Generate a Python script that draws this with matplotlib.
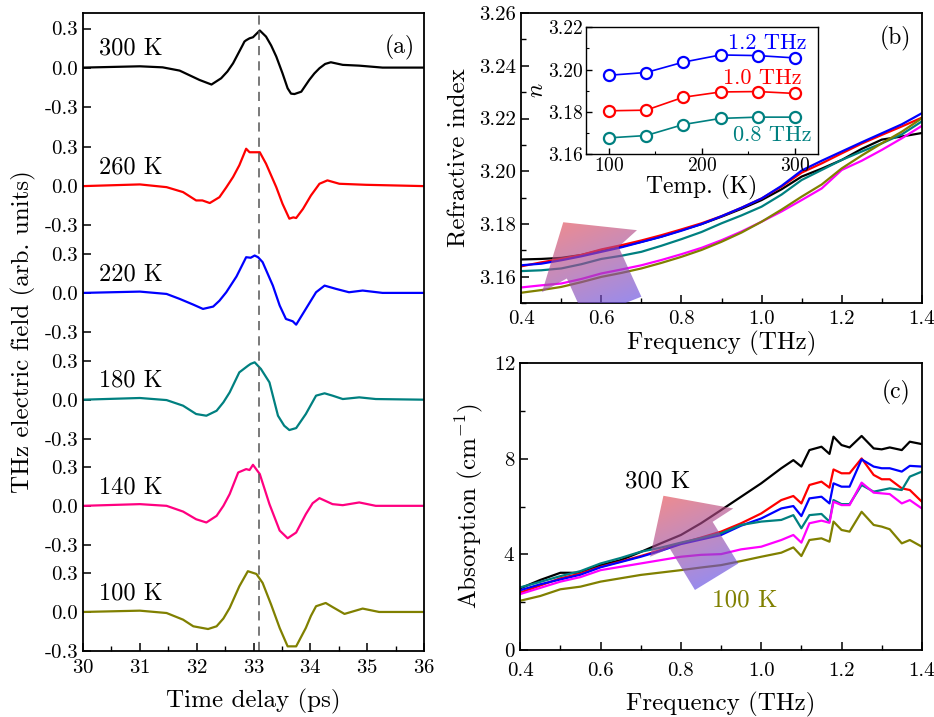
import numpy as np
import matplotlib
matplotlib.use("Agg")
import matplotlib.pyplot as plt
from matplotlib.patches import Polygon
from matplotlib.ticker import MultipleLocator, FormatStrFormatter

plt.rcParams['font.family'] = 'cmr10'
plt.rcParams['mathtext.fontset'] = 'cm'
plt.rcParams['axes.formatter.use_mathtext'] = True
plt.rcParams['axes.unicode_minus'] = False
plt.rcParams['xtick.direction'] = 'in'
plt.rcParams['ytick.direction'] = 'in'
plt.rcParams['axes.linewidth'] = 1.3

# ---------------- data ----------------
temps = ['300 K', '260 K', '220 K', '180 K', '140 K', '100 K']
colors_a = ['black', '#ff0000', '#0000ff', '#008080', '#ff0080', '#808000']
colors_bc = ['black', '#ff0000', '#0000ff', '#008080', '#ff00ff', '#808000']

# (a) time-domain THz waveforms
t300 = [30.0, 31.0, 31.4, 31.7, 32.05, 32.26, 32.43, 32.54, 32.64, 32.81, 32.84, 32.87, 32.93, 32.99, 33.11, 33.22, 33.31, 33.40, 33.51, 33.60, 33.66, 33.72, 33.84, 33.98, 34.07, 34.16, 34.26, 34.36, 34.57, 34.86, 35.27, 36.0]
e300 = [0.0, 0.01, 0.002, -0.023, -0.095, -0.13, -0.082, -0.03, 0.033, 0.174, 0.20, 0.21, 0.225, 0.233, 0.285, 0.238, 0.17, 0.085, -0.044, -0.159, -0.20, -0.203, -0.185, -0.095, -0.045, -0.005, 0.028, 0.041, 0.021, 0.015, 0.0, 0.0]
t260 = [30.0, 31.0, 31.47, 31.76, 31.99, 32.1, 32.23, 32.40, 32.52, 32.64, 32.75, 32.87, 32.93, 33.11, 33.22, 33.40, 33.51, 33.63, 33.70, 33.75, 33.87, 34.01, 34.16, 34.30, 34.51, 34.98, 36.0]
e260 = [0.0, 0.013, -0.008, -0.046, -0.11, -0.11, -0.13, -0.085, -0.01, 0.07, 0.16, 0.287, 0.26, 0.26, 0.172, -0.008, -0.136, -0.25, -0.24, -0.245, -0.175, -0.072, 0.018, 0.044, 0.018, 0.01, 0.0]
t220 = [30.0, 31.0, 31.47, 31.70, 31.94, 32.11, 32.29, 32.40, 32.52, 32.70, 32.87, 32.95, 33.02, 33.08, 33.16, 33.34, 33.46, 33.57, 33.69, 33.75, 33.92, 34.10, 34.25, 34.45, 34.68, 34.92, 35.27, 36.0]
e220 = [0.0, 0.01, -0.008, -0.046, -0.09, -0.123, -0.105, -0.06, 0.005, 0.126, 0.274, 0.27, 0.287, 0.274, 0.236, 0.056, -0.097, -0.2, -0.218, -0.244, -0.123, 0.005, 0.056, 0.031, 0.005, 0.018, 0.0, 0.0]
t180 = [30.0, 31.0, 31.47, 31.76, 31.99, 32.17, 32.35, 32.47, 32.58, 32.75, 32.90, 32.95, 33.02, 33.13, 33.28, 33.43, 33.54, 33.63, 33.75, 33.92, 34.10, 34.25, 34.39, 34.57, 34.86, 35.15, 36.0]
e180 = [0.0, 0.013, -0.003, -0.046, -0.11, -0.123, -0.085, -0.02, 0.056, 0.21, 0.26, 0.275, 0.287, 0.236, 0.133, -0.123, -0.2, -0.233, -0.218, -0.11, 0.031, 0.049, 0.031, 0.005, 0.018, 0.005, 0.0]
t140 = [30.0, 31.0, 31.47, 31.76, 31.99, 32.17, 32.35, 32.47, 32.58, 32.73, 32.87, 32.93, 32.99, 33.11, 33.28, 33.46, 33.60, 33.75, 33.92, 34.04, 34.16, 34.39, 34.57, 34.86, 35.15, 36.0]
e140 = [0.0, 0.013, 0.0, -0.044, -0.103, -0.128, -0.077, 0.0, 0.09, 0.256, 0.282, 0.275, 0.315, 0.244, 0.013, -0.19, -0.249, -0.205, -0.064, 0.02, 0.059, 0.013, 0.005, 0.026, 0.0, 0.0]
t100 = [30.0, 31.0, 31.47, 31.76, 31.94, 32.20, 32.35, 32.47, 32.58, 32.75, 32.90, 33.05, 33.16, 33.31, 33.46, 33.60, 33.75, 33.92, 34.01, 34.10, 34.27, 34.39, 34.60, 34.92, 35.21, 36.0]
e100 = [0.0, 0.01, -0.008, -0.059, -0.11, -0.131, -0.11, -0.05, 0.031, 0.197, 0.313, 0.292, 0.223, 0.056, -0.123, -0.264, -0.264, -0.123, -0.03, 0.044, 0.069, 0.038, -0.015, 0.026, 0.0, 0.0]
time_traces = [(t300, e300), (t260, e260), (t220, e220), (t180, e180), (t140, e140), (t100, e100)]
offsets = [4.18, 3.27, 2.45, 1.63, 0.815, 0.0]

# (b) refractive index
freq_b = [0.40, 0.45, 0.50, 0.55, 0.60, 0.65, 0.70, 0.75, 0.80, 0.85, 0.90, 0.95, 1.00, 1.05, 1.10, 1.15, 1.20, 1.25, 1.30, 1.35, 1.40]
n300 = [3.1666, 3.1668, 3.1672, 3.1683, 3.1701, 3.1715, 3.1733, 3.1753, 3.1777, 3.1800, 3.1828, 3.1858, 3.1891, 3.1932, 3.1980, 3.2010, 3.2043, 3.2085, 3.2120, 3.2132, 3.2145]
n260 = [3.1640, 3.1655, 3.1668, 3.1683, 3.1704, 3.1720, 3.1738, 3.1758, 3.1780, 3.1803, 3.1830, 3.1862, 3.1897, 3.1942, 3.1995, 3.2030, 3.2068, 3.2105, 3.2138, 3.2170, 3.2203]
n220 = [3.1644, 3.1650, 3.1663, 3.1678, 3.1695, 3.1712, 3.1732, 3.1752, 3.1775, 3.1800, 3.1830, 3.1862, 3.1897, 3.1945, 3.2003, 3.2040, 3.2075, 3.2110, 3.2144, 3.2178, 3.2220]
n180 = [3.1622, 3.1625, 3.1632, 3.1648, 3.1668, 3.1680, 3.1695, 3.1718, 3.1743, 3.1770, 3.1803, 3.1833, 3.1866, 3.1912, 3.1967, 3.2005, 3.2043, 3.2075, 3.2106, 3.2140, 3.2189]
n140 = [3.1560, 3.1568, 3.1575, 3.1592, 3.1613, 3.1628, 3.1644, 3.1664, 3.1686, 3.1710, 3.1739, 3.1772, 3.1809, 3.1848, 3.1891, 3.1935, 3.2005, 3.2040, 3.2081, 3.2125, 3.2172]
n100 = [3.1540, 3.1550, 3.1562, 3.1580, 3.1600, 3.1615, 3.1632, 3.1653, 3.1676, 3.1702, 3.1733, 3.1768, 3.1809, 3.1855, 3.1904, 3.1950, 3.2011, 3.2060, 3.2106, 3.2150, 3.2201]
index_curves = [n300, n260, n220, n180, n140, n100]

# (b) inset: n vs temperature
temp_k = [100, 140, 180, 220, 260, 300]
n_12 = [3.1973, 3.1986, 3.2035, 3.2069, 3.2066, 3.2055]
n_10 = [3.1805, 3.1808, 3.1869, 3.1894, 3.1896, 3.1887]
n_08 = [3.1677, 3.1688, 3.1740, 3.1769, 3.1775, 3.1775]

# (c) absorption
freq_c = [0.40, 0.45, 0.50, 0.55, 0.60, 0.65, 0.70, 0.75, 0.80, 0.85, 0.90, 0.95, 1.00, 1.05, 1.08, 1.10, 1.12, 1.15, 1.17, 1.18, 1.20, 1.22, 1.25, 1.28, 1.30, 1.32, 1.35, 1.37, 1.40]
a300 = [2.58, 2.93, 3.23, 3.23, 3.55, 3.76, 4.10, 4.46, 4.81, 5.30, 5.85, 6.41, 6.97, 7.60, 7.94, 7.67, 8.36, 8.50, 8.20, 8.92, 8.57, 8.47, 8.95, 8.43, 8.39, 8.47, 8.36, 8.71, 8.61]
a260 = [2.40, 2.70, 3.00, 3.20, 3.48, 3.70, 3.93, 4.18, 4.46, 4.70, 4.95, 5.30, 5.71, 6.27, 6.44, 6.13, 6.90, 7.04, 6.79, 7.55, 7.39, 7.39, 8.01, 7.32, 7.14, 7.14, 6.76, 6.69, 6.20]
a220 = [2.50, 2.75, 2.95, 3.15, 3.46, 3.68, 3.90, 4.15, 4.43, 4.62, 4.81, 5.20, 5.50, 5.92, 6.02, 5.60, 6.34, 6.41, 6.13, 6.97, 6.83, 6.83, 7.97, 7.67, 7.60, 7.60, 7.46, 7.70, 7.67]
a180 = [2.62, 2.85, 3.09, 3.30, 3.62, 3.85, 4.11, 4.28, 4.49, 4.68, 4.88, 5.23, 5.37, 5.44, 5.64, 5.09, 5.64, 5.69, 5.37, 6.27, 6.10, 6.10, 6.90, 6.62, 6.69, 6.76, 6.69, 7.25, 7.46]
a140 = [2.34, 2.60, 2.86, 3.05, 3.34, 3.48, 3.62, 3.76, 3.90, 3.98, 4.01, 4.21, 4.32, 4.60, 4.81, 4.49, 5.30, 5.41, 5.32, 6.20, 6.06, 6.06, 7.00, 6.58, 6.55, 6.52, 6.13, 6.27, 5.92]
a100 = [2.06, 2.26, 2.54, 2.65, 2.86, 3.00, 3.14, 3.24, 3.34, 3.45, 3.55, 3.72, 3.90, 4.07, 4.29, 3.93, 4.60, 4.67, 4.53, 5.37, 5.02, 4.95, 5.78, 5.23, 5.16, 5.05, 4.46, 4.60, 4.32]
absorb_curves = [a300, a260, a220, a180, a140, a100]


def grad_arrow(ax, verts, xlim, ylim):
    # translucent red->blue gradient arrow, clipped to a polygon
    poly = Polygon(verts, closed=True, facecolor='none', edgecolor='none')
    ax.add_patch(poly)
    xs = np.array([v[0] for v in verts])
    ys = np.array([v[1] for v in verts])
    x0, x1, y0, y1 = xs.min(), xs.max(), ys.min(), ys.max()
    gx, gy = np.meshgrid(np.linspace(x0, x1, 200), np.linspace(y0, y1, 200))
    u = (gx - xlim[0]) / (xlim[1] - xlim[0])
    v = (gy - ylim[0]) / (ylim[1] - ylim[0])
    s = 0.55 * u - v
    s = (s - s.min()) / (s.max() - s.min())
    c0 = np.array([0.92, 0.30, 0.30])
    c1 = np.array([0.30, 0.30, 0.98])
    img = np.zeros(gx.shape + (4,))
    for k in range(3):
        img[..., k] = c0[k] * (1 - s) + c1[k] * s
    img[..., 3] = 0.65
    im = ax.imshow(img, extent=[x0, x1, y0, y1], origin='lower', aspect='auto',
                   zorder=5, interpolation='bilinear')
    im.set_clip_path(poly)
    ax.set_xlim(xlim)
    ax.set_ylim(ylim)


fig = plt.figure(figsize=(9.34, 7.17), dpi=100)

# ---------------- (a) ----------------
ax_a = fig.add_axes([0.0889, 0.092, 0.3651, 0.890])
for (t, e), off, c, lab in zip(time_traces, offsets, colors_a, temps):
    ax_a.plot(t, np.array(e) + off, color=c, lw=1.6)
    ax_a.text(30.28, off + 0.06, lab, fontsize=17.5, color='black', va='bottom')
ax_a.axvline(33.1, color='#555555', ls=(0, (6, 4)), lw=1.1)
yt, yl = [], []
for off in offsets:
    yt += [off - 0.3, off, off + 0.3]
    yl += ['-0.3', '0.0', '0.3']
ax_a.set_yticks(yt)
ax_a.set_yticklabels(yl)
ax_a.set_xlim(30, 36)
ax_a.set_ylim(-0.3, 4.6)
ax_a.xaxis.set_major_locator(MultipleLocator(1))
ax_a.xaxis.set_minor_locator(MultipleLocator(0.5))
ax_a.tick_params(labelsize=15, length=6, width=1.1)
ax_a.tick_params(axis='x', pad=6)
ax_a.tick_params(which='minor', length=3.5, width=1.0)
ax_a.set_xlabel('Time delay (ps)', fontsize=18, labelpad=8)
ax_a.set_ylabel('THz electric field (arb. units)', fontsize=18, labelpad=6)
ax_a.text(0.93, 0.965, '(a)', transform=ax_a.transAxes, fontsize=17, ha='center', va='top')

# ---------------- (b) ----------------
ax_b = fig.add_axes([0.558, 0.577, 0.429, 0.405])
for n, c in zip(index_curves, colors_bc):
    ax_b.plot(freq_b, n, color=c, lw=1.6)
ax_b.xaxis.set_major_locator(MultipleLocator(0.2))
ax_b.xaxis.set_minor_locator(MultipleLocator(0.1))
ax_b.yaxis.set_major_locator(MultipleLocator(0.02))
ax_b.yaxis.set_minor_locator(MultipleLocator(0.01))
ax_b.yaxis.set_major_formatter(FormatStrFormatter('%.2f'))
ax_b.xaxis.set_major_formatter(FormatStrFormatter('%.1f'))
ax_b.tick_params(labelsize=15, length=6, width=1.1)
ax_b.tick_params(axis='x', pad=5)
ax_b.tick_params(which='minor', length=3.5, width=1.0)
ax_b.set_xlabel('Frequency (THz)', fontsize=18, labelpad=2)
ax_b.set_ylabel('Refractive index', fontsize=18, labelpad=6)
ax_b.text(0.935, 0.955, '(b)', transform=ax_b.transAxes, fontsize=17, ha='center', va='top')
grad_arrow(ax_b, [(0.505, 3.1807), (0.689, 3.1777), (0.643, 3.1714), (0.700, 3.1525),
                  (0.560, 3.1440), (0.514, 3.1594), (0.452, 3.1542)],
           (0.4, 1.4), (3.15, 3.26))

# inset
ax_i = fig.add_axes([0.627, 0.785, 0.249, 0.177])
ax_i.plot(temp_k, n_12, 'o-', color='#0000ff', mfc='white', mew=1.6, ms=8, lw=1.2)
ax_i.plot(temp_k, n_10, 'o-', color='#ff0000', mfc='white', mew=1.6, ms=8, lw=1.2)
ax_i.plot(temp_k, n_08, 'o-', color='#008080', mfc='white', mew=1.6, ms=8, lw=1.2)
ax_i.set_xlim(75, 325)
ax_i.set_ylim(3.16, 3.22)
ax_i.set_xticks([100, 200, 300])
ax_i.set_yticks([3.16, 3.18, 3.20, 3.22])
ax_i.yaxis.set_major_formatter(FormatStrFormatter('%.2f'))
ax_i.xaxis.set_minor_locator(MultipleLocator(50))
ax_i.yaxis.set_minor_locator(MultipleLocator(0.01))
ax_i.tick_params(labelsize=14, length=4, width=1.0, pad=2)
ax_i.tick_params(which='minor', length=2, width=0.8)
ax_i.set_xlabel('Temp. (K)', fontsize=17, labelpad=0)
ax_i.set_ylabel('$n$', fontsize=17, labelpad=0)
for sp in ax_i.spines.values():
    sp.set_linewidth(1.0)
ax_i.text(0.95, 0.80, '1.2 THz', transform=ax_i.transAxes, color='#0000ff', fontsize=16, ha='right', va='bottom')
ax_i.text(0.93, 0.52, '1.0 THz', transform=ax_i.transAxes, color='#ff0000', fontsize=16, ha='right', va='bottom')
ax_i.text(0.97, 0.07, '0.8 THz', transform=ax_i.transAxes, color='#008080', fontsize=16, ha='right', va='bottom')

# ---------------- (c) ----------------
ax_c = fig.add_axes([0.557, 0.0934, 0.430, 0.4003])
for a, c in zip(absorb_curves, colors_bc):
    ax_c.plot(freq_c, a, color=c, lw=1.6)
ax_c.xaxis.set_major_locator(MultipleLocator(0.2))
ax_c.xaxis.set_minor_locator(MultipleLocator(0.1))
ax_c.yaxis.set_major_locator(MultipleLocator(4))
ax_c.yaxis.set_minor_locator(MultipleLocator(2))
ax_c.xaxis.set_major_formatter(FormatStrFormatter('%.1f'))
ax_c.tick_params(labelsize=15, length=6, width=1.1)
ax_c.tick_params(axis='x', pad=9)
ax_c.tick_params(which='minor', length=3.5, width=1.0)
ax_c.set_xlabel('Frequency (THz)', fontsize=18, labelpad=8)
ax_c.set_ylabel('Absorption (cm$^{-1}$)', fontsize=18, labelpad=6)
ax_c.text(0.935, 0.94, '(c)', transform=ax_c.transAxes, fontsize=17, ha='center', va='top')
ax_c.text(0.661, 7.04, '300 K', fontsize=18, color='black', va='center')
ax_c.text(0.877, 2.09, '100 K', fontsize=18, color='#808000', va='center')
grad_arrow(ax_c, [(0.7565, 6.45), (0.9306, 5.92), (0.879, 5.36), (0.943, 3.62),
                  (0.835, 2.51), (0.772, 4.25), (0.7234, 3.90)],
           (0.4, 1.4), (0, 12))

fig.savefig('out.png', dpi=100)
